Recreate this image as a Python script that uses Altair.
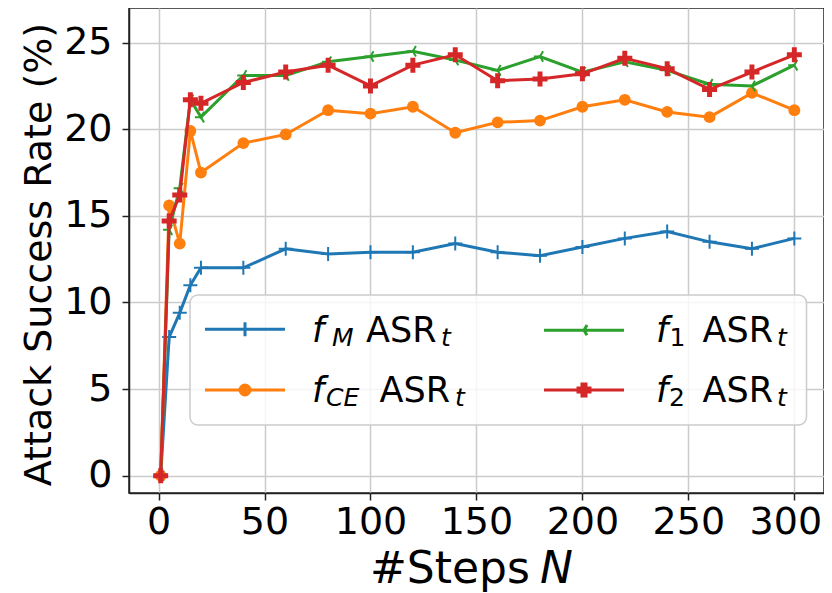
import altair as alt
import pandas as pd

# ---------------- data ----------------
steps = [1, 5, 10, 15, 20, 40, 60, 80, 100, 120, 140, 160, 180, 200, 220, 240, 260, 280, 300]
asr_fM = [0.0, 8.0, 9.4, 11.0, 12.0, 12.0, 13.1, 12.8, 12.9, 12.9, 13.4, 12.9, 12.7, 13.2, 13.7, 14.1, 13.5, 13.1, 13.7]
asr_fCE = [0.0, 15.6, 13.4, 19.9, 17.5, 19.2, 19.7, 21.1, 20.9, 21.3, 19.8, 20.4, 20.5, 21.3, 21.7, 21.0, 20.7, 22.1, 21.1]
asr_f1 = [0.0, 14.2, 16.6, 21.7, 20.7, 23.1, 23.1, 23.9, 24.2, 24.5, 24.0, 23.4, 24.2, 23.3, 23.9, 23.4, 22.6, 22.5, 23.7]
asr_f2 = [0.0, 14.7, 16.2, 21.7, 21.5, 22.7, 23.3, 23.7, 22.5, 23.7, 24.3, 22.8, 22.9, 23.2, 24.1, 23.5, 22.3, 23.3, 24.3]

series_names = ["f_M ASR_t", "f_CE ASR_t", "f_1 ASR_t", "f_2 ASR_t"]
series_subs = ["M", "CE", "1", "2"]
series_colors = ["#1f77b4", "#ff7f0e", "#2ca02c", "#d62728"]

x_ticks = [0, 50, 100, 150, 200, 250, 300]
y_ticks = [0, 5, 10, 15, 20, 25]
x_title_main = "#Steps"
x_title_var = "N"
y_title = "Attack Success Rate (%)"
legend_func = "f"
legend_metric = "ASR"
legend_metric_sub = "t"

# ---------------- table ----------------
rows = []
for name, vals in zip(series_names, [asr_fM, asr_fCE, asr_f1, asr_f2]):
    for s, v in zip(steps, vals):
        rows.append({"series": name, "step": s, "asr": v})
df = pd.DataFrame(rows)

# ---------------- styling ----------------
W, H = 695, 485
FONT = "DejaVu Sans"
GRID = "#cbcbcb"
color_of = dict(zip(series_names, series_colors))

# plot markers (unit box paths)
PLUS_THIN = "M-1,0H1M0,-1V1"
TRI_LEFT = "M0,0L-1,0M0,0L0.5,-0.866M0,0L0.5,0.866"
PLUS_FILLED = "M-0.33,-1H0.33V-0.33H1V0.33H0.33V1H-0.33V0.33H-1V-0.33H-0.33Z"

marker_style = {
    series_names[0]: dict(shape=PLUS_THIN, filled=False, size=196, strokeWidth=2),
    series_names[1]: dict(shape="circle", filled=True, size=140, strokeWidth=0),
    series_names[2]: dict(shape=TRI_LEFT, filled=False, size=150, strokeWidth=2),
    series_names[3]: dict(shape=PLUS_FILLED, filled=True, size=225, strokeWidth=0),
}

# legend symbols: line + marker (unit = 10 px), same order as series_names
LEG_PLUS = "M-4,0H4M0,-0.7V0.7"
LEG_CIRCLE = "M-4,0H4M0.5,0A0.5,0.5,0,1,1,-0.5,0A0.5,0.5,0,1,1,0.5,0Z"
LEG_TRI = "M-4,0H4M0,0L0.3,-0.52M0,0L0.3,0.52"
LEG_P = "M-4,0H4M-0.2,-0.6H0.2V-0.2H0.6V0.2H0.2V0.6H-0.2V0.2H-0.6V-0.2H-0.2Z"
leg_paths = [LEG_PLUS, LEG_CIRCLE, LEG_TRI, LEG_P]

x_enc = alt.X(
    "step:Q",
    scale=alt.Scale(domain=[-13.95, 314.0], nice=False, zero=False),
    axis=alt.Axis(
        values=x_ticks, title=None, grid=True, gridColor=GRID, gridWidth=1.5,
        domain=True, domainColor="#222", domainWidth=1.5,
        ticks=True, tickColor="#222", tickWidth=1.5, tickSize=7,
        labelFont=FONT, labelFontSize=38, labelColor="black", labelPadding=3,
        labelFlush=False, labelOverlap=False,
        labelOffset={"condition": {"test": "datum.value == 300", "value": -9}, "value": 0},
    ),
)
y_enc = alt.Y(
    "asr:Q",
    scale=alt.Scale(domain=[-1, 27], nice=False, zero=False),
    axis=alt.Axis(
        values=y_ticks, title=y_title, grid=True, gridColor=GRID, gridWidth=1.5,
        domain=True, domainColor="#222", domainWidth=1.5,
        ticks=True, tickColor="#222", tickWidth=1.5, tickSize=7,
        labelFont=FONT, labelFontSize=38, labelColor="black", labelPadding=10,
        labelFlush=False, labelOverlap=False,
        titleFont=FONT, titleFontSize=38, titleColor="black", titleFontWeight="normal",
        titleAngle=270, titleX=-79, titleY=246, titleAlign="center", titleBaseline="alphabetic",
    ),
)

layers = []
for name in series_names:
    c = color_of[name]
    base = alt.Chart(df).transform_filter(alt.datum.series == name)
    layers.append(
        base.mark_line(strokeWidth=3, opacity=1, color=c).encode(x=x_enc, y=y_enc, order="step:Q")
    )
    st = marker_style[name]
    layers.append(
        base.mark_point(shape=st["shape"], filled=st["filled"], size=st["size"],
                        strokeWidth=st["strokeWidth"], opacity=1, color=c)
        .encode(x=x_enc, y=y_enc)
    )

# legend frame (behind legend symbols, above data)
layers.append(
    alt.Chart(pd.DataFrame({"d": [0]})).mark_rect(
        fill="white", fillOpacity=0.8, stroke="#cccccc", strokeWidth=1.5, cornerRadius=8
    ).encode(x=alt.value(61), x2=alt.value(677.5), y=alt.value(287), y2=alt.value(417))
)

# native legend (symbols only; column-major like matplotlib ncol=2)
leg = alt.Legend(
    orient="none", legendX=104.5, legendY=309.5, columns=2, title=None,
    labelExpr="''", labelFontSize=1, symbolSize=400, symbolStrokeWidth=3,
    padding=0, columnPadding=246, rowPadding=35, labelOffset=0, symbolOpacity=1,
)
layers.append(
    alt.Chart(df).transform_filter("datum.asr < -100")
    .mark_point(filled=False, opacity=1, strokeWidth=3, size=400)
    .encode(
        x=x_enc, y=y_enc,
        color=alt.Color("series:N", scale=alt.Scale(domain=series_names, range=series_colors), legend=leg),
        fill=alt.Fill("series:N", scale=alt.Scale(domain=series_names, range=series_colors), legend=leg),
        shape=alt.Shape("series:N", scale=alt.Scale(domain=series_names, range=leg_paths), legend=leg),
    )
)


def txt(s, x, y, size, italic=False):
    return alt.Chart(pd.DataFrame({"t": [s]})).mark_text(
        align="left", baseline="alphabetic", font=FONT, fontSize=size,
        fontStyle="italic" if italic else "normal", color="black",
    ).encode(x=alt.value(x), y=alt.value(y), text="t:N")


# legend labels: f_sub ASR_t
label_pos = [  # (f_x, sub_x, asr_x, t_x, baseline)
    (183, 203, 237, 312, 333.7),
    (183, 197, 250.5, 326, 393.7),
    (527, 540.5, 573.5, 648, 333.7),
    (527, 540, 573.5, 648, 393.7),
]
for sub, (fx, sx, ax, tx, by) in zip(series_subs, label_pos):
    layers.append(txt(legend_func, fx, by, 35, italic=True))
    layers.append(txt(sub, sx, by + 4.5, 25, italic=not sub.isdigit()))
    layers.append(txt(legend_metric, ax, by, 35))
    layers.append(txt(legend_metric_sub, tx, by + 4.5, 25, italic=True))

# x-axis title with italic N
layers.append(txt(x_title_main, 241, 574.6, 44))
layers.append(txt(x_title_var, 411, 574.6, 44, italic=True))

chart = (
    alt.layer(*layers)
    .properties(
        width=W, height=H,
        autosize=alt.AutoSizeParams(type="none"),
        padding={"left": 121, "top": 0, "right": 0, "bottom": 100},
    )
    .configure_view(stroke="#222", strokeWidth=1.5)
)

chart.save("out.html", embed_options={"renderer": "svg", "actions": False})
